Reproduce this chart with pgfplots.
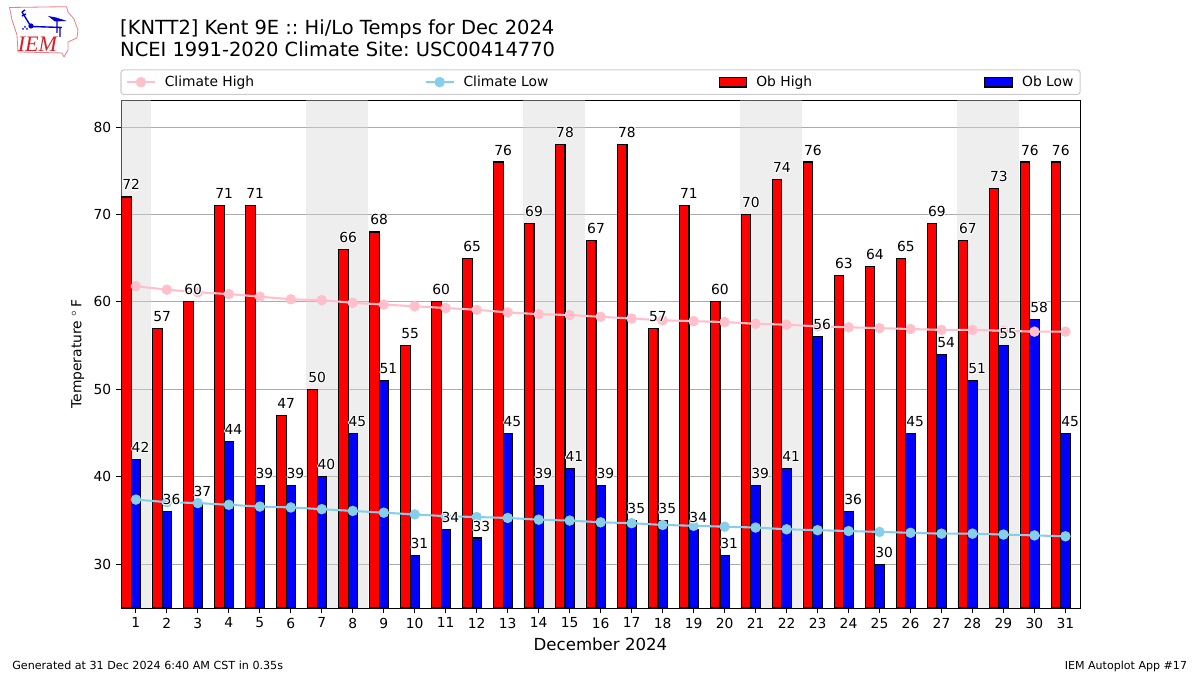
\documentclass[border=0pt]{standalone}
\usepackage{pgfplots}
\usepackage{pgfplotstable}
\usepackage{fontspec}
\pgfplotsset{compat=1.18}
\setmainfont{DejaVu Sans}
\newfontfamily\logofont{Liberation Serif}
\frenchspacing
\definecolor{chigh}{HTML}{FFC0CB}
\definecolor{clow}{HTML}{87CEEB}
\newcommand\fs[1]{\fontsize{#1}{#1}\selectfont}
\newcommand\hc[3]{\rlap{\kern#1\raisebox{#2}{\color{white}#3}}}
\newcommand\halo[1]{\leavevmode\hc{.75pt}{0pt}{#1}\hc{-.75pt}{0pt}{#1}\hc{0pt}{.75pt}{#1}\hc{0pt}{-.75pt}{#1}\hc{.55pt}{.55pt}{#1}\hc{-.55pt}{.55pt}{#1}\hc{.55pt}{-.55pt}{#1}\hc{-.55pt}{-.55pt}{#1}#1}
\pgfplotsset{
  linehandle/.style={legend image code/.code={\draw[sharp corners,mark repeat=2,mark phase=2,##1] plot coordinates {(0pt,0pt)(10pt,0pt)(20pt,0pt)};}},
  barhandle/.style={legend image code/.code={\draw[sharp corners,##1] (0pt,-3.5pt) rectangle (20pt,3.5pt);}},
}
\pgfplotstableread{
d hi lo chi clo
1 72 42 61.8 37.4
2 57 36 61.4 37.1
3 60 37 61.1 37.0
4 71 44 60.9 36.8
5 71 39 60.6 36.6
6 47 39 60.3 36.5
7 50 40 60.2 36.3
8 66 45 59.9 36.1
9 68 51 59.7 35.9
10 55 31 59.5 35.7
11 60 34 59.3 35.5
12 65 33 59.1 35.4
13 76 45 58.8 35.3
14 69 39 58.6 35.1
15 78 41 58.5 35.0
16 67 39 58.3 34.8
17 78 35 58.1 34.7
18 57 35 57.9 34.5
19 71 34 57.8 34.4
20 60 31 57.7 34.3
21 70 39 57.5 34.2
22 74 41 57.4 34.0
23 76 56 57.2 33.9
24 63 36 57.1 33.8
25 64 30 57.0 33.7
26 65 45 56.9 33.6
27 69 54 56.8 33.5
28 67 51 56.8 33.5
29 73 55 56.7 33.4
30 76 58 56.6 33.3
31 76 45 56.6 33.2
}\datatable
\begin{document}
\begin{tikzpicture}
\path[use as bounding box] (0,0) rectangle (12in,6.75in);
\begin{scope}[x=0.01in,y=-0.01in,shift={(0,6.75in)}]
  % logo
  \draw[draw={rgb,255:red,230;green,130;blue,135},line width=0.6pt,line join=round]
    (9.5,7.5)--(66.5,6.7)--(68,12)--(74,19)--(78,30)--(77,38)--(68,42)--(68,50)--(64,57)--(62,53)--(18,52)--(17,35)--(12,20)--cycle;
  \draw[blue!85!black,line width=1pt] (31,26.5)--(62,27.5) (57,21)--(57,33) (60,27)--(60,37) (22,12)--(30,25) (22,12)--(25,10) (22,16)--(26,14);
  \fill[blue!85!black] (31,26) circle (2.6);
  \fill[blue!85!black] (48,16)--(56,17.5)--(67,21)--(55,21.5)--cycle;
  \fill[blue!85!black] (23,29) circle (1) (27,29) circle (1) (25,27) circle (1);
  \node[anchor=base,inner sep=0pt,text={rgb,255:red,220;green,30;blue,40}] at (37.5,52) {\logofont\itshape\fs{16}IEM};
  % titles
  \node[anchor=base west,inner sep=0pt] at (120,35) {\fs{14.06}[KNTT2] Kent 9E :: Hi/Lo Temps for Dec 2024};
  \node[anchor=base west,inner sep=0pt] at (120,57) {\fs{14.06}NCEI 1991-2020 Climate Site: USC00414770};
  % footers
  \node[anchor=base west,inner sep=0pt] at (12,670) {\fs{8.05}Generated at 31 Dec 2024 6:40 AM CST in 0.35s};
  \node[anchor=base east,inner sep=0pt] at (1188,670) {\fs{8}IEM Autoplot App \#17};
\end{scope}
\begin{axis}[
  at={(1.21in,0.67in)}, anchor=south west,
  scale only axis, width=9.59in, height=5.08in,
  xmin=0.52, xmax=31.47, ymin=25, ymax=83.09,
  xtick={1,...,31}, ytick={30,40,50,60,70,80},
  tick align=outside, tick pos=left,
  major tick length=3.5pt,
  every tick/.style={black,line width=0.7pt},
  axis line style={line width=0.7pt},
  ymajorgrids,
  grid style={color=black!33,line width=0.7pt},
  /pgf/number format/assume math mode=true,
  ticklabel style={font=\fs{10}},
  xlabel={\fs{12}December 2024},
  ylabel={\fs{10}Temperature $^\circ$\kern2ptF},
  legend columns=4,
  legend style={at={(0,1)},anchor=south west,xshift=-0.005in,yshift=0.05in,draw=black!20,line width=0.8pt,
    rounded corners=2pt,inner xsep=0.05in,inner ysep=0.06in,
    nodes={inner sep=0pt,font=\fs{10}},column sep=0pt},
  legend cell align=left,
  /tikz/every odd column/.append style={column sep=0.09in},
]
% weekends
\addplot[fill=black!17,fill opacity=0.4,draw=none,forget plot] coordinates {(0.5,83.09)(1.5,83.09)} \closedcycle;
\addplot[fill=black!17,fill opacity=0.4,draw=none,forget plot] coordinates {(6.5,83.09)(8.5,83.09)} \closedcycle;
\addplot[fill=black!17,fill opacity=0.4,draw=none,forget plot] coordinates {(13.5,83.09)(15.5,83.09)} \closedcycle;
\addplot[fill=black!17,fill opacity=0.4,draw=none,forget plot] coordinates {(20.5,83.09)(22.5,83.09)} \closedcycle;
\addplot[fill=black!17,fill opacity=0.4,draw=none,forget plot] coordinates {(27.5,83.09)(29.5,83.09)} \closedcycle;
% bars
\addplot[ybar,bar width=0.3,bar shift=-0.3,fill=red,draw=black,line width=0.8pt,forget plot] table[x=d,y=hi] {\datatable};
\addplot[ybar,bar width=0.3,bar shift=0,fill=blue,draw=black,line width=0.8pt,forget plot] table[x=d,y=lo] {\datatable};
% climate lines
\addplot[chigh,line width=1.5pt,mark=*,mark size=3pt,mark options={fill=chigh,draw=chigh},forget plot] table[x=d,y=chi] {\datatable};
\addplot[clow,line width=1.5pt,mark=*,mark size=3pt,mark options={fill=clow,draw=clow},forget plot] table[x=d,y=clo] {\datatable};
% labels
\addplot[draw=none,mark=none,forget plot,point meta=explicit symbolic,
  nodes near coords={\halo{\pgfplotspointmeta}},
  every node near coord/.style={anchor=base,inner sep=0pt,font=\fs{10},text=black}]
  table[x expr=\thisrow{d}-0.15,y expr=\thisrow{hi}+0.8,meta=hi] {\datatable};
\addplot[draw=none,mark=none,forget plot,point meta=explicit symbolic,
  nodes near coords={\halo{\pgfplotspointmeta}},
  every node near coord/.style={anchor=base,inner sep=0pt,font=\fs{10},text=black}]
  table[x expr=\thisrow{d}+0.15,y expr=\thisrow{lo}+0.8,meta=lo] {\datatable};
% legend
\addlegendimage{chigh,line width=1.5pt,mark=*,mark size=3pt,mark options={fill=chigh,draw=chigh},linehandle}
\addlegendentry{\makebox[2.60in][l]{Climate High\strut}}
\addlegendimage{clow,line width=1.5pt,mark=*,mark size=3pt,mark options={fill=clow,draw=clow},linehandle}
\addlegendentry{\makebox[2.55in][l]{Climate Low\strut}}
\addlegendimage{fill=red,draw=black,line width=0.8pt,barhandle}
\addlegendentry{\makebox[2.28in][l]{Ob High\strut}}
\addlegendimage{fill=blue,draw=black,line width=0.8pt,barhandle}
\addlegendentry{\makebox[0.53in][l]{Ob Low\strut}}
\end{axis}
\end{tikzpicture}
\end{document}
